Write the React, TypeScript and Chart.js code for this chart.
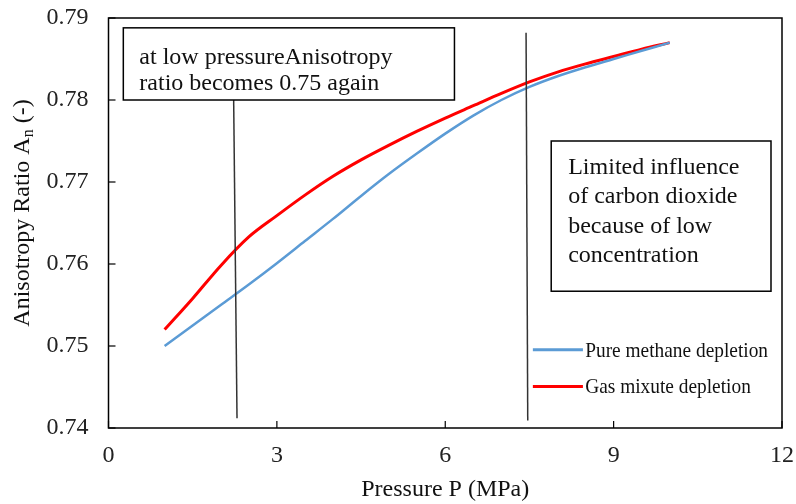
import React, { useEffect, useRef } from "react";
import { Chart, registerables } from "chart.js";

Chart.register(...registerables);

// ---- data ----
const pressure = [1, 1.5, 2, 2.5, 3, 3.5, 4, 4.5, 5, 5.5, 6, 6.5, 7, 7.5, 8, 8.5, 9, 9.5, 10];
const pureMethane = [0.75, 0.7525, 0.755, 0.7575, 0.7601, 0.7628, 0.7655, 0.7683, 0.771, 0.7735, 0.7759, 0.7781, 0.78, 0.7816, 0.7829, 0.784, 0.785, 0.786, 0.787];
const gasMixture = [0.752, 0.7558, 0.7598, 0.7633, 0.7659, 0.7684, 0.7707, 0.7727, 0.7745, 0.7762, 0.7778, 0.7793, 0.7808, 0.7822, 0.7834, 0.7844, 0.7853, 0.7862, 0.787];
const xTicks = [0, 3, 6, 9, 12];
const yTicks = [0.74, 0.75, 0.76, 0.77, 0.78, 0.79];
const seriesLabels = ["Pure methane depletion", "Gas mixute depletion"];
const xTitle = "Pressure P (MPa)";
const yTitleMain = "Anisotropy Ratio A";
const yTitleSub = "n";
const yTitleTail = " (-)";
const noteLow = ["at low pressureAnisotropy", "ratio becomes 0.75 again"];
const noteCO2 = ["Limited influence", "of carbon dioxide", "because of low", "concentration"];

// ---- styles / annotation placement (data units) ----
const seriesColors = ["#5B9BD5", "#FF0000"];
const seriesWidths = [2.5, 3];
const FONT = "'Liberation Serif', 'Times New Roman', serif";
const markerLines = [
  { x0: 2.23, y0: 0.78, x1: 2.29, y1: 0.7412 },
  { x0: 7.44, y0: 0.7882, x1: 7.47, y1: 0.7409 },
];
const noteBoxes = [
  { x0: 0.264, y0: 0.7888, x1: 6.164, y1: 0.78, lines: noteLow, pad: 16, first: 36, gap: 26 },
  { x0: 7.888, y0: 0.775, x1: 11.804, y1: 0.75668, lines: noteCO2, pad: 17, first: 32.6, gap: 29.5 },
];
const legendPos = { x0: 7.561, x1: 8.453, tx: 8.494, ys: [0.74954, 0.74506] };

const overlayPlugin = {
  id: "overlay",
  afterDatasetsDraw(chart: any) {
    const { ctx, chartArea, scales } = chart;
    const xs = scales.x;
    const ys = scales.y;
    ctx.save();
    // frame
    ctx.strokeStyle = "#000";
    ctx.lineWidth = 1.5;
    ctx.strokeRect(chartArea.left, chartArea.top, chartArea.right - chartArea.left, chartArea.bottom - chartArea.top);
    // inward ticks
    ctx.lineWidth = 1.2;
    xTicks.forEach((t) => {
      const px = xs.getPixelForValue(t);
      ctx.beginPath();
      ctx.moveTo(px, chartArea.bottom);
      ctx.lineTo(px, chartArea.bottom - 7);
      ctx.stroke();
    });
    yTicks.forEach((t) => {
      const py = ys.getPixelForValue(t);
      ctx.beginPath();
      ctx.moveTo(chartArea.left, py);
      ctx.lineTo(chartArea.left + 7, py);
      ctx.stroke();
    });
    // marker lines
    ctx.strokeStyle = "#333";
    ctx.lineWidth = 1.5;
    markerLines.forEach((m) => {
      ctx.beginPath();
      ctx.moveTo(xs.getPixelForValue(m.x0), ys.getPixelForValue(m.y0));
      ctx.lineTo(xs.getPixelForValue(m.x1), ys.getPixelForValue(m.y1));
      ctx.stroke();
    });
    // note boxes
    noteBoxes.forEach((b) => {
      const l = xs.getPixelForValue(b.x0);
      const r = xs.getPixelForValue(b.x1);
      const t = ys.getPixelForValue(b.y0);
      const bt = ys.getPixelForValue(b.y1);
      ctx.fillStyle = "#fff";
      ctx.fillRect(l, t, r - l, bt - t);
      ctx.strokeStyle = "#000";
      ctx.lineWidth = 1.5;
      ctx.strokeRect(l, t, r - l, bt - t);
      ctx.fillStyle = "#111";
      ctx.font = `24px ${FONT}`;
      ctx.textAlign = "left";
      ctx.textBaseline = "alphabetic";
      b.lines.forEach((s, i) => ctx.fillText(s, l + b.pad, t + b.first + i * b.gap));
    });
    // legend
    seriesLabels.forEach((lab, i) => {
      const py = ys.getPixelForValue(legendPos.ys[i]);
      ctx.strokeStyle = seriesColors[i];
      ctx.lineWidth = 3;
      ctx.beginPath();
      ctx.moveTo(xs.getPixelForValue(legendPos.x0), py);
      ctx.lineTo(xs.getPixelForValue(legendPos.x1), py);
      ctx.stroke();
      ctx.save();
      ctx.translate(xs.getPixelForValue(legendPos.tx), py);
      ctx.scale(0.88, 1);
      ctx.fillStyle = "#111";
      ctx.font = `22px ${FONT}`;
      ctx.textAlign = "left";
      ctx.textBaseline = "middle";
      ctx.fillText(lab, 0, 1);
      ctx.restore();
    });
    // y title with subscript
    ctx.save();
    const cy = (chartArea.top + chartArea.bottom) / 2 - 10;
    ctx.translate(23, cy);
    ctx.rotate(-Math.PI / 2);
    ctx.fillStyle = "#111";
    ctx.textBaseline = "middle";
    ctx.textAlign = "left";
    ctx.font = `24px ${FONT}`;
    const w1 = ctx.measureText(yTitleMain).width;
    const w3 = ctx.measureText(yTitleTail).width;
    ctx.font = `16px ${FONT}`;
    const w2 = ctx.measureText(yTitleSub).width;
    let x0 = -(w1 + w2 + w3) / 2;
    ctx.font = `24px ${FONT}`;
    ctx.fillText(yTitleMain, x0, 0);
    ctx.font = `16px ${FONT}`;
    ctx.fillText(yTitleSub, x0 + w1, 6);
    ctx.font = `24px ${FONT}`;
    ctx.fillText(yTitleTail, x0 + w1 + w2, 0);
    ctx.restore();
    ctx.restore();
  },
};

export default function App() {
  const ref = useRef<HTMLCanvasElement>(null);
  useEffect(() => {
    document.body.style.margin = "0";
    const canvas = ref.current;
    if (!canvas) return;
    const chart = new Chart(canvas, {
      type: "line",
      data: {
        datasets: [
          {
            label: seriesLabels[0],
            data: pressure.map((p, i) => ({ x: p, y: pureMethane[i] })),
            borderColor: seriesColors[0],
            borderWidth: seriesWidths[0],
            pointRadius: 0,
            cubicInterpolationMode: "monotone",
            fill: false,
          },
          {
            label: seriesLabels[1],
            data: pressure.map((p, i) => ({ x: p, y: gasMixture[i] })),
            borderColor: seriesColors[1],
            borderWidth: seriesWidths[1],
            pointRadius: 0,
            cubicInterpolationMode: "monotone",
            fill: false,
          },
        ],
      },
      options: {
        responsive: false,
        animation: false,
        devicePixelRatio: 1,
        layout: { padding: { left: 0, right: 14, top: 18, bottom: 0 } },
        plugins: { legend: { display: false }, tooltip: { enabled: false } },
        scales: {
          x: {
            type: "linear",
            min: 0,
            max: 12,
            afterBuildTicks: (s: any) => {
              s.ticks = xTicks.map((v) => ({ value: v }));
            },
            afterFit: (s: any) => {
              s.height = 76;
              s.paddingLeft = 0;
              s.paddingRight = 0;
            },
            grid: { display: false, drawTicks: false },
            border: { display: false },
            ticks: { padding: 13, color: "#222", font: { family: FONT, size: 24 }, maxRotation: 0 },
            title: { display: true, text: xTitle, color: "#111", font: { family: FONT, size: 24 }, padding: 0 },
          },
          y: {
            type: "linear",
            min: 0.74,
            max: 0.79,
            afterBuildTicks: (s: any) => {
              s.ticks = yTicks.map((v) => ({ value: v }));
            },
            afterFit: (s: any) => {
              s.width = 108.5;
              s.paddingTop = 0;
              s.paddingBottom = 0;
            },
            grid: { display: false, drawTicks: false },
            border: { display: false },
            ticks: {
              padding: 20,
              color: "#222",
              font: { family: FONT, size: 24 },
              callback: (v: any) => Number(v).toFixed(2),
            },
          },
        },
      },
      plugins: [overlayPlugin],
    });
    return () => chart.destroy();
  }, []);
  return (
    <div style={{ width: 796, height: 504 }}>
      <canvas ref={ref} width={796} height={504} />
    </div>
  );
}
